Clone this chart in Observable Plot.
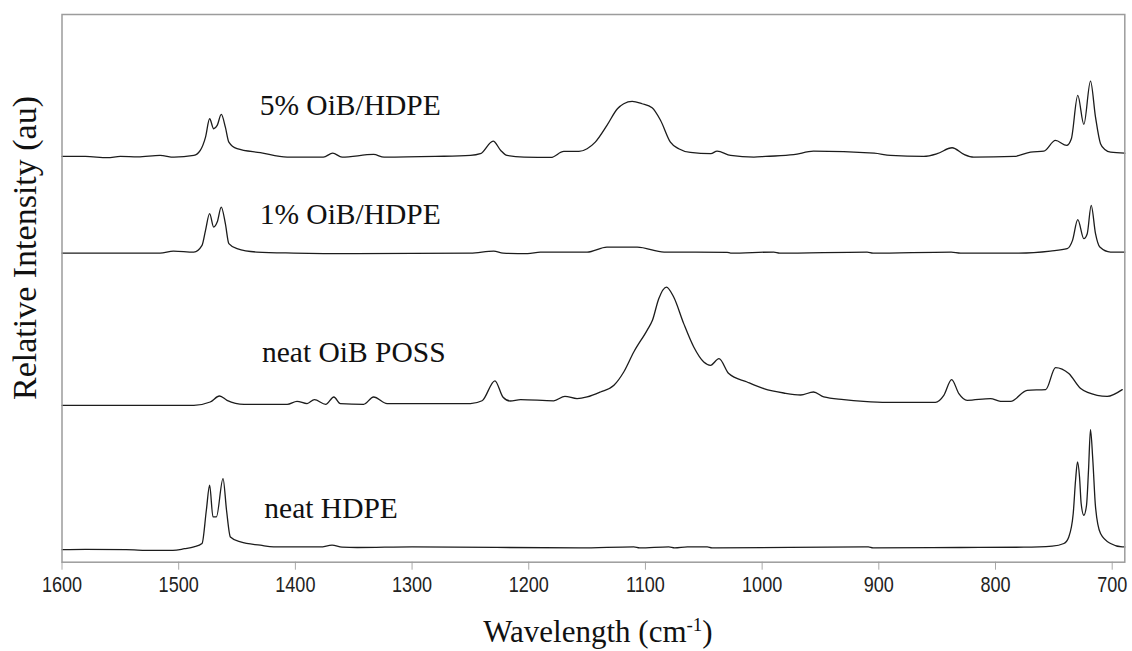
<!DOCTYPE html>
<html>
<head>
<meta charset="utf-8">
<script src="https://cdn.jsdelivr.net/npm/d3@7"></script>
<script src="https://cdn.jsdelivr.net/npm/@observablehq/plot@0.6"></script>
<style>
  html, body { margin: 0; padding: 0; background: #fff; }
  #chart svg { display: block; }
</style>
</head>
<body>
<div id="chart"></div>
<script>
// Raman spectra, stacked (wavenumber cm-1, relative intensity au incl. offset)
const pct5 = [[1600,406],[1580,406],[1561,404.7],[1550,406],[1535,405.5],[1516,407],[1504,405.3],[1487,407],[1481.5,412],[1477,425.3],[1473.5,443.7],[1470,433.7],[1467,437],[1463.5,448],[1460,435.3],[1457,420.3],[1450,413.7],[1430,409.7],[1407,405.3],[1376,405.3],[1368,409.3],[1360,405.3],[1333,408],[1324,405.3],[1280,406],[1250,407],[1241.5,408.7],[1230.5,421.3],[1224,412],[1218.6,407],[1204,405.3],[1181,405],[1170,411],[1157,411],[1150,413.7],[1143,420.3],[1133,437],[1124,453.7],[1118.6,458.7],[1111.4,461],[1103,458.7],[1094.3,454.7],[1087,442],[1078.6,420.3],[1071.5,413.7],[1061.5,410],[1044,408.7],[1038.6,411.3],[1027,407],[1007,405.3],[997,406],[973,407.7],[956,411.3],[904,409.3],[890,407],[861.5,406],[850,408.7],[837.2,414.7],[827,408],[818.6,405.3],[784,406],[770,410.3],[758.6,411.3],[748.6,422],[739,417],[735,423.7],[729.5,467],[724.3,438],[718.6,481.3],[714.3,445.3],[710,418.7],[706,412.7],[701.4,410.3],[689.2,409.3]];

const pct1 = [[1600,309.3],[1516,309.3],[1504.5,311.3],[1487,310.3],[1480,317],[1477,332],[1473.5,348.7],[1470,335.3],[1467,340.3],[1463.5,355.3],[1460,338.7],[1457,318.7],[1450,313.7],[1433,310.3],[1401.5,309.3],[1350,308.7],[1250,309.3],[1230,311.3],[1222,309.3],[1201,308.7],[1190,310.3],[1150,310.3],[1133,315.3],[1107,315.3],[1084,310.3],[1030,310],[1027,309.3],[990,310.3],[985,309.3],[910,310.3],[905,309.3],[838,310.3],[830,309.3],[780,309.3],[753,311.3],[738.6,313.7],[734,322],[729.5,342.7],[724.3,323.7],[721.4,328.7],[718,357],[714.3,328.7],[710.6,315.3],[701.4,310.3],[689.2,310.3]];

const poss = [[1600,157],[1516,157],[1487,157],[1473,160.3],[1465,166.3],[1458.6,162],[1444,158],[1407,158],[1398.6,161],[1390,158.7],[1383.7,162.7],[1374,158],[1367,165.3],[1361.5,158.7],[1341.5,158],[1333,165.3],[1321.4,158.7],[1250,158.7],[1240,161.5],[1229,181.5],[1222,165],[1216,161.3],[1207,162.7],[1178.6,161.5],[1169,166],[1158.6,163.7],[1150,165.3],[1138.6,170.3],[1127,177],[1118.6,190.3],[1110,210.3],[1098.6,232],[1094,242],[1088.6,263.7],[1082,275.3],[1075.8,265.3],[1067.2,238.7],[1058.6,215.3],[1050,200.3],[1044.3,197],[1037,203.7],[1028.6,188.7],[1012.9,180.3],[998.6,173.7],[981.5,169.3],[967,167.3],[956,170.3],[947.2,165.3],[930,162.7],[913,161],[893,160],[851.5,160],[844.3,167],[837.6,182.7],[831.4,168.7],[824.3,162],[804.3,163.7],[795.7,161],[787,161],[772.9,172],[757,172.7],[748.6,194.7],[737.2,188.7],[727,173.7],[712.9,167],[704.3,166],[691.4,172.7]];

const hdpe = [[1600,12.5],[1580,12.8],[1545,12.5],[1522,11.8],[1505,11.8],[1495,13.5],[1487,15.3],[1480,18.7],[1476.3,52],[1473.5,77],[1470.6,45.3],[1467.7,45.3],[1462,83.7],[1459,52],[1455.7,25.3],[1447,20.3],[1430,17],[1418.6,15.3],[1378.6,15.3],[1368.6,17],[1360,15],[1347,14.7],[1300,15.3],[1156,14.3],[1110,15.3],[1105,14.3],[1080,15.3],[1075,14.3],[1064,15.3],[1047,15.3],[1043,14.3],[909,15.3],[905,14.3],[830,14.7],[775.8,15],[751.4,16],[741.4,18.7],[737.2,25.3],[733.4,48.7],[731.4,82],[729.7,100.3],[728,85.3],[726.6,58.7],[724.3,47],[722,57],[720.3,92],[718.6,132.7],[716.6,102],[714.3,55.3],[710,28.7],[701.4,18.7],[691.4,15.3],[689.2,15.3]];

const seriesNames = ["5% OiB/HDPE", "1% OiB/HDPE", "neat OiB POSS", "neat HDPE"];
const seriesData = [pct5, pct1, poss, hdpe];
const labelX = [1430.6, 1430.6, 1428.6, 1426.6];
const labelY = [447, 338.7, 200.3, 44.7];
const xTicks = [1600, 1500, 1400, 1300, 1200, 1100, 1000, 900, 800, 700];
const xDomain = [1600, 689.2];
const yDomain = [0, 548];

const rows = seriesData.flatMap((s, i) => s.map(([w, v]) => ({series: seriesNames[i], w, v})));
const labels = seriesNames.map((name, i) => ({name, x: labelX[i], y: labelY[i]}));

const W = 1132, H = 651;
const chart = Plot.plot({
  width: W,
  height: H,
  marginLeft: 61.5,
  marginRight: 7.7,
  marginTop: 14,
  marginBottom: 89.3,
  x: {domain: xDomain},
  y: {domain: yDomain},
  marks: [
    Plot.axisY({ticks: [], label: null, tickSize: 0}),
    Plot.axisX({
      ticks: xTicks,
      tickSize: 8,
      tickPadding: 7,
      tickFormat: d => String(d),
      label: null,
      stroke: "#a8a8a8",
      fill: "#222",
      fontSize: 21.5,
      fontFamily: "'Liberation Sans', sans-serif"
    }),
    Plot.line(rows, {x: "w", y: "v", z: "series", stroke: "#1c1c1c", strokeWidth: 1.3, curve: "monotone-x"}),
    Plot.text(labels, {
      x: "x", y: "y", text: "name",
      textAnchor: "start", lineAnchor: "bottom",
      fontFamily: "'Liberation Serif', serif",
      fontSize: 29.5, fill: "#111"
    }),
    Plot.frame({stroke: "#9c9c9c", strokeWidth: 1.5})
  ]
});

const svg = d3.select(chart);
svg.style("font-family", "'Liberation Serif', serif");
// narrow the tick labels (condensed look of the original)
const tickSet = new Set(xTicks.map(String));
svg.selectAll("text").each(function () {
  const t = this.getAttribute("transform");
  if (tickSet.has(this.textContent.trim())) {
    if (t && t.includes("translate")) {
      this.setAttribute("transform", t + " scale(0.84,1)");
    } else {
      const x = +this.getAttribute("x") || 0, y = +this.getAttribute("y") || 0;
      this.setAttribute("transform", `translate(${x},${y}) scale(0.84,1)`);
      this.setAttribute("x", 0); this.setAttribute("y", 0);
    }
  }
});
// y-axis title
svg.append("text")
  .attr("transform", "translate(36,400) rotate(-90)")
  .attr("text-anchor", "start")
  .attr("font-family", "'Liberation Serif', serif")
  .attr("font-size", 34)
  .attr("fill", "#111")
  .text("Relative Intensity (au)");
// x-axis title with superscript
const xt = svg.append("text")
  .attr("x", 598)
  .attr("y", 642)
  .attr("text-anchor", "middle")
  .attr("font-family", "'Liberation Serif', serif")
  .attr("font-size", 31)
  .attr("fill", "#111");
xt.append("tspan").text("Wavelength (cm");
xt.append("tspan").attr("dy", -11).attr("font-size", 19).text("-1");
xt.append("tspan").attr("dy", 11).text(")");

document.getElementById("chart").appendChild(chart);
</script>
</body>
</html>
